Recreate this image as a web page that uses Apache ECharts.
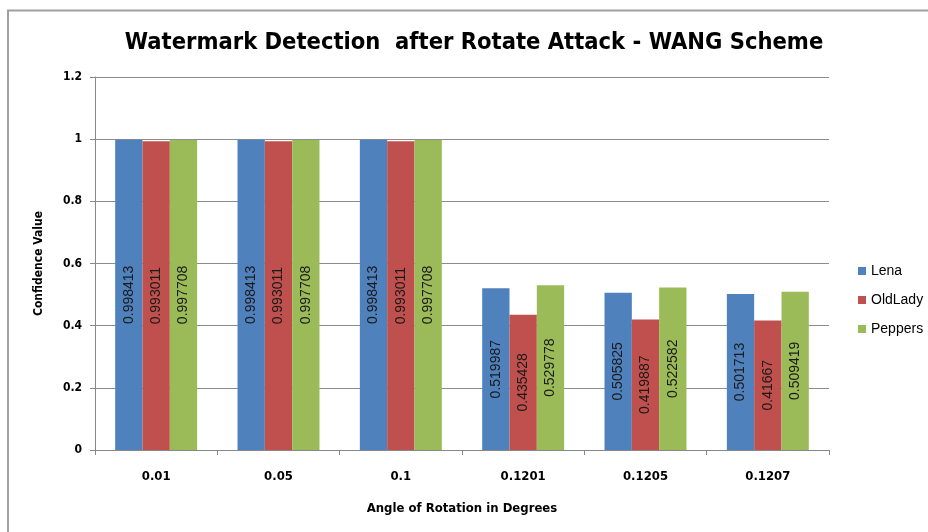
<!DOCTYPE html>
<html><head><meta charset="utf-8">
<script src="https://cdn.jsdelivr.net/npm/echarts@6/dist/echarts.min.js"></script>
<style>html,body{margin:0;padding:0;background:#fff}#c{width:928px;height:532px}</style>
</head><body><div id="c"></div>
<script>
var categories = ['0.01','0.05','0.1','0.1201','0.1205','0.1207'];
var lena = [0.998413,0.998413,0.998413,0.519987,0.505825,0.501713];
var oldLady = [0.993011,0.993011,0.993011,0.435428,0.419887,0.41667];
var peppers = [0.997708,0.997708,0.997708,0.529778,0.522582,0.509419];
var seriesNames = ['Lena','OldLady','Peppers'];
var colors = ['#4F81BD','#C0504D','#9BBB59'];

var FONT = '"Liberation Sans",Arial,sans-serif';
var BFONT = '"DejaVu Sans Condensed","Liberation Sans",sans-serif';
var chart = echarts.init(document.getElementById('c'));
function mk(name, data, color){
  return {name:name,type:'bar',data:data,barGap:'0%',barCategoryGap:'33%',
    itemStyle:{color:color},
    label:{show:true,position:'inside',rotate:90,fontFamily:FONT,fontSize:14,color:'#1a1a1a',
      formatter:function(p){return String(p.value);}}};
}
chart.setOption({
  animation:false,
  textStyle:{fontFamily:FONT},
  title:{text:'Watermark Detection  after Rotate Attack - WANG Scheme',left:469,textAlign:'center',top:26,
    textStyle:{fontFamily:BFONT,fontWeight:'bold',fontSize:23.5,color:'#000'}},
  legend:{orient:'vertical',left:853,top:259,itemWidth:8,itemHeight:8,itemGap:15,icon:'rect',
    textStyle:{fontFamily:FONT,fontSize:14,color:'#000'}},
  grid:{left:95,top:77,width:734,height:373},
  xAxis:{type:'category',data:categories,name:'Angle of Rotation in Degrees',nameLocation:'middle',nameGap:52,
    nameTextStyle:{fontFamily:BFONT,fontWeight:'bold',fontSize:13,color:'#000'},
    axisLine:{lineStyle:{color:'#888'}},axisTick:{show:true,length:5,lineStyle:{color:'#888'}},
    axisLabel:{margin:20,fontFamily:BFONT,fontWeight:'bold',fontSize:13,color:'#000'}},
  yAxis:{type:'value',min:0,max:1.2,interval:0.2,name:'Confidence Value',nameLocation:'middle',nameGap:50,
    nameTextStyle:{fontFamily:BFONT,fontWeight:'bold',fontSize:12,color:'#000'},
    axisLine:{show:true,lineStyle:{color:'#888'}},axisTick:{show:true,length:5,lineStyle:{color:'#888'}},
    splitLine:{lineStyle:{color:'#8c8c8c'}},
    axisLabel:{margin:13,fontFamily:BFONT,fontWeight:'bold',fontSize:12,color:'#000',
      formatter:function(v){return String(Math.round(v*10)/10);}}},
  series:[mk(seriesNames[0],lena,colors[0]),mk(seriesNames[1],oldLady,colors[1]),mk(seriesNames[2],peppers,colors[2])],
  graphic:[{type:'polyline',shape:{points:[[8,532],[8,10.5],[928,10.5]]},style:{stroke:'#a0a0a0',lineWidth:2,fill:null},silent:true}]
});
</script></body></html>
